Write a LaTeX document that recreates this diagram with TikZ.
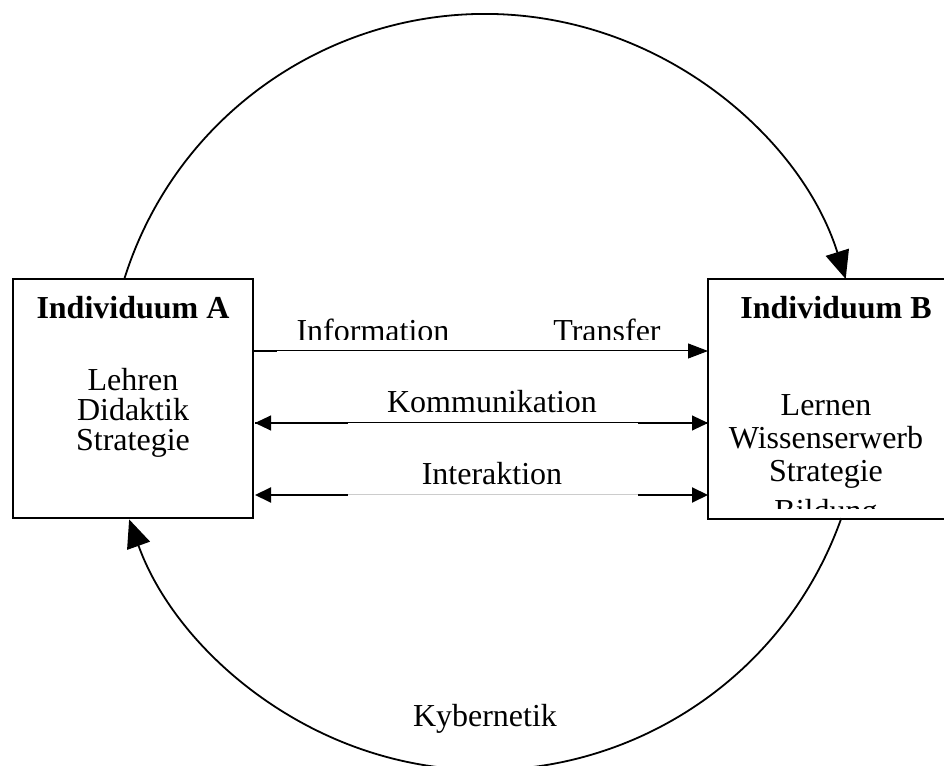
\documentclass[tikz,border=0pt]{standalone}
\usepackage{fontspec}
\setmainfont{Liberation Serif}
\usetikzlibrary{arrows.meta,calc}
\begin{document}
\begin{tikzpicture}[x=1pt,y=1pt,
  box/.style={draw,line width=2pt,minimum width=240pt,minimum height=239pt,inner sep=0pt},
  txt/.style={font=\fontsize{32}{36}\selectfont,anchor=base,inner sep=0pt},
  btxt/.style={txt,font=\fontsize{32}{36}\selectfont\bfseries},
  circ/.style={line width=1.8pt,-{Triangle[length=28pt,width=24pt]}},
  harr/.style={line width=1pt},
  thick2/.style={line width=2pt},
  htip/.style={{Triangle[length=16pt,width=15pt]}-{Triangle[length=16pt,width=15pt]}},
  rtip/.style={-{Triangle[length=20pt,width=15pt]}}
]
\clip (0,0) rectangle (944,765);
\fill[white] (0,0) rectangle (944,765);
% boxes
\node[box] (A) at (133,366.5) {};
\node[box,minimum width=252pt,minimum height=240pt] (B) at (834,366) {};
% box texts
\node[btxt] (tA) at (133,446) {Individuum A};
\node[txt] (a1) at (133,374) {Lehren};
\node[txt] (a2) at (133,344) {Didaktik};
\node[txt] (a3) at (133,314) {Strategie};
\node[btxt] (tB) at (836,446) {Individuum B};
\node[txt] (b1) at (826,349) {Lernen};
\node[txt] (b2) at (826,316) {Wissenserwerb};
\node[txt] (b3) at (826,283) {Strategie};
\begin{scope}
\clip (700,256) rectangle (944,400);
\node[txt] (b4) at (826,243) {Bildung};
\end{scope}
% circle
\coordinate (C) at (485,373);
\coordinate (u1) at ($(C)+(162.5:378)$);
\coordinate (l1) at ($(C)+(-19.5:378)$);
\draw[circ] (u1) arc[start angle=162.5,end angle=17.4,radius=378];
\draw[circ] (l1) arc[start angle=-19.5,end angle=-160.3,radius=378];
\node[txt] (kyb) at (485,38) {Kybernetik};
% Information / Transfer
\begin{scope}
\clip (0,425) rectangle (944,765);
\node[txt] (inf) at (373,423) {Information};
\node[txt] (tra) at (607,423) {Transfer};
\end{scope}
\coordinate (i0) at (253,414);
\coordinate (i1) at (277,414);
\coordinate (i2) at (708,414);
\draw[harr,rtip] (i0) -- (i2);
\draw[thick2] (i0) -- (i1);
% Kommunikation
\coordinate (k0) at (255,342);
\coordinate (k1) at (348,342);
\coordinate (k2) at (638,342);
\coordinate (k3) at (708,342);
\draw[harr,htip] (k0) -- (k3);
\draw[thick2] (k0) -- (k1);
\draw[thick2] (k2) -- (k3);
\node[txt] (kom) at (492,352) {Kommunikation};
% Interaktion
\coordinate (n0) at (255,270);
\coordinate (n1) at (348,270);
\coordinate (n2) at (638,270);
\coordinate (n3) at (708,270);
\draw[line width=1pt,black!20] (n1) -- (n2);
\draw[thick2,{Triangle[length=16pt,width=15pt]}-] (n0) -- (n1);
\draw[thick2,-{Triangle[length=16pt,width=15pt]}] (n2) -- (n3);
\node[txt] (int) at (492,280) {Interaktion};
\end{tikzpicture}
\end{document}
